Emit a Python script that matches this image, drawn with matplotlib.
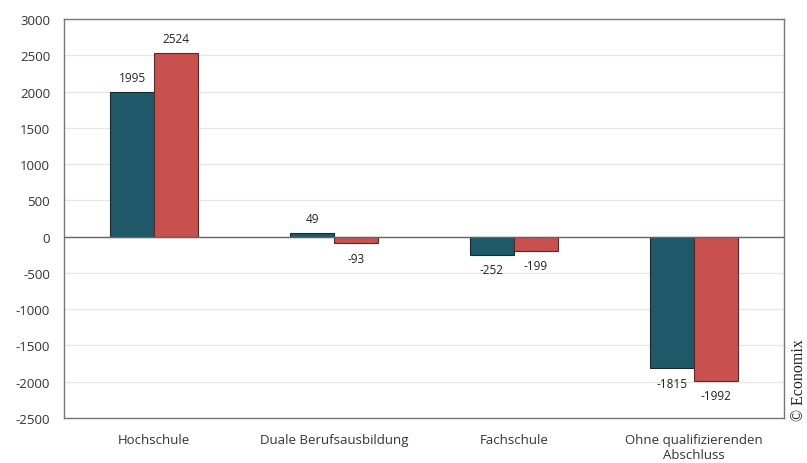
import numpy as np
import matplotlib.pyplot as plt

categories = ["Hochschule", "Duale Berufsausbildung", "Fachschule",
              "Ohne qualifizierenden\nAbschluss"]
series_a = [1995, 49, -252, -1815]
series_b = [2524, -93, -199, -1992]
yticks = list(range(-2500, 3001, 500))

plt.rcParams["font.family"] = ["Open Sans", "DejaVu Sans"]

fig = plt.figure(figsize=(8.07, 4.64), dpi=100)
ax = fig.add_axes([0.0793, 0.097, 0.892, 0.86])

x = np.arange(len(categories))
w = 0.244
teal = "#1f5868"
red = "#c8504e"

bars_a = ax.bar(x - w / 2, series_a, w, color=teal, edgecolor="#1a2a2e", linewidth=0.8, zorder=3)
bars_b = ax.bar(x + w / 2, series_b, w, color=red, edgecolor="#5a2a2a", linewidth=0.8, zorder=3)

# value labels above positive bars, below negative ones
for bars, vals in ((bars_a, series_a), (bars_b, series_b)):
    for b, v in zip(bars, vals):
        cx = b.get_x() + b.get_width() / 2
        if v >= 0:
            ax.annotate(str(v), (cx, v), xytext=(0, 6), textcoords="offset points",
                        ha="center", va="bottom", fontsize=8.5, color="#222222")
        else:
            ax.annotate(str(v), (cx, v), xytext=(0, -6), textcoords="offset points",
                        ha="center", va="top", fontsize=8.5, color="#222222")

ax.set_xlim(-0.5, len(categories) - 0.5)
ax.set_ylim(-2500, 3000)
ax.set_yticks(yticks)
ax.set_yticklabels([str(t) for t in yticks], fontsize=9.5, color="#333333")
ax.set_xticks(x)
ax.set_xticklabels(categories, fontsize=9.5, color="#333333", linespacing=1.15)
ax.tick_params(axis="x", length=0, pad=11)
ax.tick_params(axis="y", length=0, pad=10)
ax.yaxis.grid(True, color="#e6e6e6", linewidth=0.9, zorder=0)
ax.axhline(0, color="#666666", linewidth=1.0, zorder=4)
for s in ax.spines.values():
    s.set_color("#777777")
    s.set_linewidth(1.0)

fig.text(0.9895, 0.093, "© Economix", rotation=90, ha="center", va="bottom",
         fontsize=11.5, family=["Liberation Serif", "DejaVu Serif"], color="#222222")

fig.savefig("out.png", dpi=100)
